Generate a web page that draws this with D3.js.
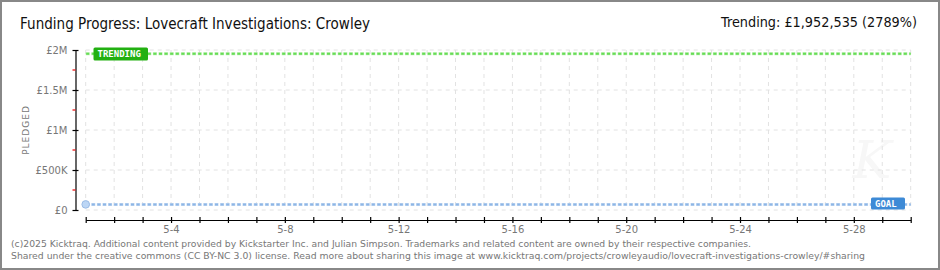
<!DOCTYPE html>
<html><head><meta charset="utf-8">
<script src="https://cdn.jsdelivr.net/npm/d3@7"></script>
<style>body{margin:0;background:#fff}svg{display:block}</style>
</head><body>
<svg id="c" width="940" height="270"></svg>
<script>
const title = "Funding Progress: Lovecraft Investigations: Crowley";
const trendingText = "Trending:  £1,952,535 (2789%)";
const days = d3.range(1, 31).map(d => new Date(2025, 4, d));
const xTickLabels = ["5-4", "5-8", "5-12", "5-16", "5-20", "5-24", "5-28"];
const yTicks = [0, 500000, 1000000, 1500000, 2000000];
const yTickLabels = ["£0", "£500K", "£1M", "£1.5M", "£2M"];
const yMinor = [250000, 750000, 1250000, 1750000];
const goal = 70000;
const trending = 1952535;
const pledgedDates = [new Date(2025, 4, 1)];
const pledgedValues = [70000];
const footer = [
 "(c)2025 Kicktraq. Additional content provided by Kickstarter Inc. and Julian Simpson. Trademarks and related content are owned by their respective companies.",
 "Shared under the creative commons (CC BY-NC 3.0) license. Read more about sharing this image at www.kicktraq.com/projects/crowleyaudio/lovecraft-investigations-crowley/#sharing"
];
const footerWidths = [740, 854];

const svg = d3.select("#c");
const x = d3.scaleTime().domain([days[0], days[days.length-1]]).range([85.7, 910.7]);
const y = d3.scaleLinear().domain([0, 2000000]).range([210, 50]);

// frame
svg.append("rect").attr("x",1).attr("y",1).attr("width",938).attr("height",268)
  .attr("fill","#fff").attr("stroke","#888").attr("stroke-width",2);

// watermark
svg.append("text").attr("x",872).attr("y",178).attr("text-anchor","middle")
  .attr("font-family","DejaVu Serif").attr("font-style","italic").attr("font-size",52)
  .attr("fill","#f7f7f7").text("K");

// grid
const g = svg.append("g");
g.selectAll("line.v").data(days).join("line")
  .attr("x1",d=>x(d)).attr("x2",d=>x(d)).attr("y1",50).attr("y2",210)
  .attr("stroke","#e2e2e2").attr("stroke-dasharray","4,4");
g.selectAll("line.h").data(yTicks).join("line")
  .attr("x1",85.7).attr("x2",910.7).attr("y1",d=>y(d)).attr("y2",d=>y(d))
  .attr("stroke","#e2e2e2").attr("stroke-dasharray","4,4");

// y axis
const yAx = svg.append("g").attr("transform","translate(75.5,0)")
  .call(d3.axisLeft(y).tickValues(yTicks).tickFormat((d,i)=>yTickLabels[i]).tickSize(3).tickSizeOuter(0).tickPadding(5));
yAx.select(".domain").attr("stroke","#000").attr("stroke-width",1.2);
yAx.selectAll(".tick line").attr("x1",-3).attr("x2",3).attr("stroke","#000").attr("stroke-width",1.2);
yAx.selectAll(".tick text").attr("fill","#777").attr("font-family","DejaVu Sans").attr("font-size",10).attr("dy","0.35em");
svg.append("g").selectAll("line").data(yMinor).join("line")
  .attr("x1",72.5).attr("x2",75.5).attr("y1",d=>y(d)).attr("y2",d=>y(d))
  .attr("stroke","#e00").attr("stroke-width",1.2);
svg.append("text").attr("transform","translate(29,130) rotate(-90)")
  .attr("text-anchor","middle").attr("font-family","DejaVu Sans").attr("font-size",9)
  .attr("fill","#777").attr("letter-spacing",1).text("PLEDGED");

// x axis
const xAx = svg.append("g").attr("transform","translate(0,220)")
  .call(d3.axisBottom(x).tickValues(days).tickSize(0).tickFormat(d=>{const s=(d.getMonth()+1)+"-"+d.getDate();return xTickLabels.includes(s)?s:"";}).tickPadding(6));
xAx.select(".domain").attr("stroke","#000").attr("stroke-width",1.2);
xAx.selectAll(".tick line").attr("y1",-3).attr("y2",3).attr("stroke","#000").attr("stroke-width",1.2);
xAx.selectAll(".tick text").attr("fill","#777").attr("font-family","DejaVu Sans").attr("font-size",10);

// lines
function refLine(v, color, light){
  svg.append("line").attr("x1",85.7).attr("x2",910.7).attr("y1",y(v)).attr("y2",y(v))
    .attr("stroke",light).attr("stroke-width",3).attr("stroke-dasharray","4,1.6");
  svg.append("line").attr("x1",86.2).attr("x2",910.7).attr("y1",y(v)).attr("y2",y(v))
    .attr("stroke",color).attr("stroke-width",2).attr("stroke-dasharray","3,2.6");
}
refLine(trending, "#66dd55", "#bbeeb0");
refLine(goal, "#8db6e6", "#c6dbf3");

// pledged point
svg.selectAll("circle.p").data(pledgedValues).join("circle")
  .attr("cx",(d,i)=>x(pledgedDates[i])).attr("cy",d=>y(d)).attr("r",3.8)
  .attr("fill","#bcd6f5").attr("stroke","#9bbce6").attr("stroke-width",1);

// labels
function tag(xp, yp, w, h, color, txt){
  svg.append("rect").attr("x",xp).attr("y",yp).attr("width",w).attr("height",h).attr("rx",1.5).attr("fill",color);
  svg.append("text").attr("x",xp+4).attr("y",yp+h/2).attr("dy","0.36em")
    .attr("font-family","DejaVu Sans Mono").attr("font-weight","bold").attr("font-size",9)
    .attr("fill","#fff").text(txt);
}
tag(93.5, 47.5, 54.5, 13, "#22b011", "TRENDING");
tag(871, 197.5, 34, 12, "#3d8ad6", "GOAL");

// title
svg.append("text").attr("x",20).attr("y",29).attr("font-family","DejaVu Sans").attr("font-size",15)
  .attr("fill","#111").attr("textLength",350).attr("lengthAdjust","spacingAndGlyphs").text(title);
svg.append("text").attr("x",917).attr("y",27).attr("text-anchor","end").attr("font-family","DejaVu Sans").attr("font-size",14)
  .attr("fill","#111").attr("textLength",196).attr("lengthAdjust","spacingAndGlyphs").text(trendingText);

// footer
svg.selectAll("text.f").data(footer).join("text")
  .attr("x",11).attr("y",(d,i)=>247+i*12).attr("font-family","DejaVu Sans").attr("font-size",9.5)
  .attr("fill","#777").attr("textLength",(d,i)=>footerWidths[i])
  .attr("lengthAdjust","spacingAndGlyphs").text(d=>d);
</script>
</body></html>
